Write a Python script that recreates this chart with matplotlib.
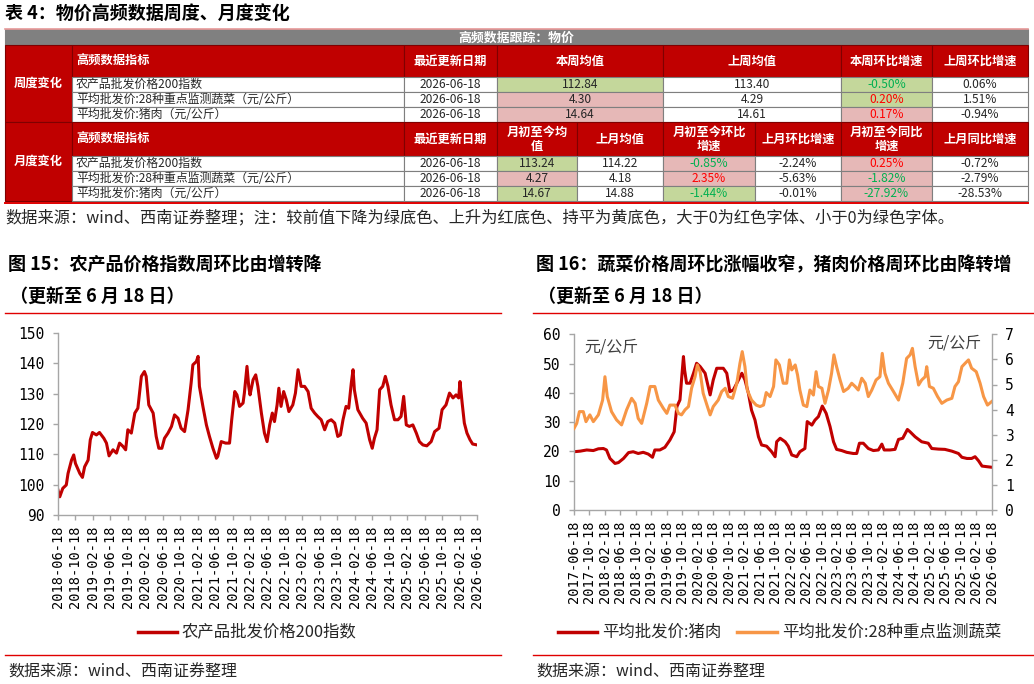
import matplotlib
matplotlib.use("Agg")
import matplotlib.pyplot as plt
from matplotlib.patches import Rectangle
import pandas as pd
import numpy as np

plt.rcParams["font.family"] = ["Noto Sans CJK SC", "DejaVu Sans"]
plt.rcParams["axes.unicode_minus"] = False

# ── colours ───────────────────────────────────────────────────────────────────
RED = "#C00000"
ORANGE = "#F79646"
GRAY_HDR = "#808080"
BG_GREEN = "#C4D79B"
BG_PINK = "#E6B8B7"
TXT_GREEN = "#00B050"
TXT_RED = "#FF0000"
AXIS_GRAY = "#A6A6A6"
MONO = "DejaVu Sans Mono"

# ── table data ────────────────────────────────────────────────────────────────
INDICATORS = ["农产品批发价格200指数",
              "平均批发价:28种重点监测蔬菜（元/公斤）",
              "平均批发价:猪肉（元/公斤）"]
UPDATE_DATE = ["2026-06-18", "2026-06-18", "2026-06-18"]
WEEK_AVG = [112.84, 4.30, 14.64]
WEEK_PREV_AVG = [113.40, 4.29, 14.61]
WEEK_CHG = [-0.50, 0.20, 0.17]
WEEK_PREV_CHG = [0.06, 1.51, -0.94]
MONTH_AVG = [113.24, 4.27, 14.67]
MONTH_PREV_AVG = [114.22, 4.18, 14.88]
MONTH_MOM = [-0.85, 2.35, -1.44]
MONTH_PREV_MOM = [-2.24, -5.63, -0.01]
MONTH_YOY = [0.25, -1.82, -27.92]
MONTH_PREV_YOY = [-0.72, -2.79, -28.53]

WEEK_HEADERS = ["本周均值", "上周均值", "本周环比增速", "上周环比增速"]
MONTH_HEADERS = ["月初至今均\n值", "上月均值", "月初至今环比\n增速", "上月环比增速",
                 "月初至今同比\n增速", "上月同比增速"]

# ── chart 15: 农产品批发价格200指数 (months since 2018-06-18) ─────────────────
AGRI_MONTHS = [0, 0.4, 1.1, 1.9, 2.3, 3.1, 3.6, 4.0, 5.0, 5.6,
               6.1, 6.9, 7.4, 7.9, 8.8, 9.5, 10.5, 11.1, 11.7, 12.6,
               13.4, 14.1, 14.9, 15.5, 16.0, 16.8, 17.6, 18.3, 19.1, 19.8,
               20.2, 20.8, 21.8, 22.5, 23.1, 23.8, 24.4, 25.2, 26.0, 26.7,
               27.5, 28.2, 29.0, 29.8, 30.5, 30.9, 31.7, 32.1, 32.4, 33.2,
               34.0, 34.7, 35.5, 36.3, 36.6, 37.4, 38.4, 39.3, 39.8, 40.5,
               41.0, 41.6, 42.4, 42.7, 43.3, 43.7, 44.0, 44.7, 45.3, 45.8,
               46.6, 47.3, 47.9, 48.5, 49.1, 49.6, 50.2, 50.6, 51.1, 51.7,
               52.3, 52.9, 53.8, 54.4, 55.0, 55.7, 56.5, 57.3, 58.0, 58.8,
               59.5, 60.3, 61.1, 61.8, 62.6, 63.4, 64.1, 64.7, 65.3, 66.0,
               66.6, 67.2, 67.6, 67.9, 68.7, 69.8, 70.6, 71.4, 72.0, 72.5,
               73.1, 73.7, 74.4, 75.0, 75.6, 76.3, 77.1, 77.9, 78.6, 79.2,
               79.8, 80.5, 81.3, 82.1, 82.8, 83.6, 84.5, 85.5, 86.3, 87.3,
               88.0, 88.9, 89.7, 90.5, 91.2, 91.8, 92.1, 92.6, 93.1, 93.7,
               94.4, 95.0, 96.0]
AGRI_INDEX = [98.2, 96.0, 98.8, 99.9, 103.7, 108.1, 109.8, 107.0, 103.7, 102.4,
              105.9, 108.1, 114.8, 117.2, 116.4, 117.2, 115.3, 113.7, 109.5, 111.5,
              110.4, 113.7, 112.6, 111.5, 118.1, 117.0, 123.6, 125.2, 135.7, 137.3,
              135.7, 126.3, 123.6, 115.9, 112.0, 112.0, 115.3, 117.0, 119.2, 123.0,
              121.9, 118.6, 117.5, 124.7, 133.5, 139.5, 140.6, 142.3, 132.4, 125.8,
              119.7, 115.9, 112.0, 108.7, 109.3, 114.2, 113.7, 113.7, 121.4, 130.7,
              129.6, 125.8, 126.9, 130.2, 139.0, 132.4, 129.6, 134.6, 136.2, 132.4,
              123.6, 117.0, 114.2, 119.7, 123.6, 120.8, 126.3, 131.8, 125.8, 130.7,
              128.0, 124.1, 126.3, 130.2, 137.9, 132.4, 132.4, 130.7, 125.2, 123.6,
              122.5, 121.4, 118.1, 120.8, 121.4, 120.3, 115.9, 116.4, 121.4, 125.8,
              125.2, 133.5, 137.9, 131.3, 124.7, 121.9, 120.3, 114.8, 112.0, 115.3,
              118.1, 131.3, 132.4, 135.7, 132.4, 126.3, 121.4, 121.4, 122.5, 129.1,
              119.7, 119.2, 119.7, 117.0, 114.2, 113.1, 112.8, 114.2, 117.5, 118.6,
              124.7, 126.3, 130.2, 128.6, 129.6, 128.6, 134.0, 126.9, 120.3, 117.0,
              114.8, 113.4, 113.1]

# ── chart 16: 猪肉 / 蔬菜 (months since 2017-06-18) ───────────────────────────
PORK_MONTHS = [0, 1.6, 3.3, 5.0, 6.3, 7.6, 8.4, 9.3, 10.6, 11.5,
               12.8, 14.1, 15.3, 16.6, 17.9, 19.2, 20.3, 20.9, 22.2, 23.5,
               24.8, 25.9, 26.6, 27.4, 27.8, 28.3, 28.6, 29.1, 30.0, 30.9,
               31.7, 32.6, 33.9, 35.2, 36.0, 36.9, 38.6, 39.5, 40.3, 41.2,
               42.1, 43.4, 44.2, 45.1, 45.9, 46.8, 47.7, 48.5, 49.8, 51.1,
               52.0, 52.4, 53.3, 54.6, 55.4, 56.3, 57.6, 58.4, 59.7, 60.3,
               61.5, 62.3, 63.2, 64.2, 65.2, 66.2, 67.1, 67.9, 69.2, 70.5,
               72.2, 73.1, 73.8, 74.8, 76.1, 77.4, 78.7, 79.6, 80.2, 81.7,
               83.0, 83.9, 85.0, 86.2, 86.9, 88.2, 89.9, 91.6, 92.5, 94.2,
               95.9, 97.7, 99.4, 100.3, 101.6, 102.8, 103.7, 104.6, 105.5, 106.7,
               108.0]
PORK_PRICE = [19.9, 20.1, 20.5, 20.3, 20.9, 21.0, 20.5, 17.6, 15.9, 16.2,
              17.6, 19.6, 19.9, 19.3, 19.7, 19.1, 18.0, 20.5, 20.5, 21.4,
              23.9, 26.7, 35.3, 37.6, 44.4, 52.4, 47.8, 43.3, 43.3, 46.7,
              50.1, 49.0, 46.7, 39.3, 44.4, 48.4, 48.4, 46.7, 40.4, 41.0,
              43.3, 46.7, 44.4, 39.8, 34.1, 30.7, 25.0, 22.2, 21.8, 19.9,
              18.2, 23.3, 24.5, 23.3, 21.8, 18.8, 18.2, 19.9, 21.0, 30.2,
              29.0, 30.7, 31.9, 35.5, 33.0, 28.5, 23.3, 20.7, 20.3, 19.7,
              19.3, 19.3, 22.8, 22.8, 21.0, 20.3, 20.5, 22.5, 20.5, 20.5,
              20.7, 24.1, 24.5, 27.5, 26.7, 25.0, 23.3, 22.8, 21.0, 20.8,
              20.7, 20.1, 19.3, 18.0, 17.6, 17.6, 18.2, 16.8, 15.0, 14.8,
              14.6]

VEG_MONTHS = [0, 0.7, 1.4, 2.4, 3.1, 4.1, 5.0, 6.3, 7.4, 8.0,
              8.6, 9.7, 11.0, 12.3, 13.6, 14.9, 15.8, 16.6, 17.5, 18.8,
              19.7, 20.9, 21.8, 23.1, 24.0, 24.8, 26.1, 27.0, 27.8, 28.7,
              29.6, 30.4, 31.3, 31.9, 32.6, 33.4, 34.5, 35.2, 36.0, 37.3,
              38.2, 39.1, 39.9, 41.0, 42.1, 42.9, 43.5, 44.2, 44.8, 45.9,
              47.1, 48.1, 49.0, 49.7, 50.7, 51.6, 52.2, 53.1, 54.1, 55.0,
              55.7, 56.3, 57.2, 57.8, 58.4, 59.3, 60.2, 61.0, 61.9, 62.6,
              63.2, 64.1, 64.9, 65.8, 66.6, 67.2, 67.9, 68.8, 69.7, 70.9,
              71.8, 72.7, 73.5, 74.4, 75.3, 76.1, 77.0, 78.1, 79.1, 79.7,
              80.4, 81.3, 82.6, 83.9, 85.0, 86.0, 86.9, 87.5, 88.2, 89.1,
              89.9, 90.8, 91.2, 91.9, 92.9, 94.0, 95.1, 96.4, 97.7, 98.5,
              99.4, 100.3, 101.1, 102.0, 102.8, 104.0, 105.0, 105.9, 106.9, 108.0]
VEG_PRICE = [3.25, 3.45, 3.92, 3.92, 3.52, 3.79, 3.52, 3.79, 4.38, 5.31,
             4.52, 3.92, 3.59, 3.39, 3.99, 4.45, 4.25, 3.65, 3.45, 4.25,
             4.92, 4.92, 4.38, 4.05, 3.85, 4.18, 4.18, 3.85, 3.79, 3.99,
             4.12, 4.85, 5.31, 5.78, 5.51, 4.65, 4.12, 3.79, 4.12, 4.38,
             4.72, 4.85, 4.52, 4.45, 5.05, 5.84, 6.31, 5.71, 4.78, 4.38,
             4.18, 4.12, 4.18, 4.68, 4.52, 4.92, 5.98, 5.78, 5.05, 5.05,
             5.98, 5.58, 5.78, 5.38, 4.78, 4.18, 4.12, 4.78, 4.58, 5.51,
             4.92, 4.85, 4.25, 4.78, 5.45, 6.18, 5.71, 5.18, 4.72, 4.85,
             5.05, 4.92, 4.78, 5.25, 5.05, 4.52, 4.78, 5.18, 5.31, 6.24,
             5.45, 5.05, 4.72, 4.38, 5.05, 6.04, 6.18, 6.44, 5.71, 4.98,
             5.18, 5.31, 5.71, 4.92, 4.85, 4.52, 4.25, 4.38, 4.45, 4.92,
             5.11, 5.71, 5.84, 5.98, 5.65, 5.51, 5.05, 4.52, 4.18, 4.32]

AGRI_LABEL = "农产品批发价格200指数"
PORK_LABEL = "平均批发价:猪肉"
VEG_LABEL = "平均批发价:28种重点监测蔬菜"


def date_ticks(start, n):
    return pd.date_range(start, periods=n, freq=pd.DateOffset(months=4)).strftime("%Y-%m-%d").tolist()


fig = plt.figure(figsize=(10.34, 6.84), dpi=100)
bg = fig.add_axes([0, 0, 1, 1])
bg.set_xlim(0, 1034)
bg.set_ylim(684, 0)
bg.axis("off")


def cell(x0, x1, y0, y1, fc, ec="#7F7F7F", lw=0.8):
    bg.add_patch(Rectangle((x0, y0), x1 - x0, y1 - y0, facecolor=fc, edgecolor=ec, lw=lw))


def bg_for(cur, prev):
    return BG_GREEN if cur < prev else (BG_PINK if cur > prev else "#FFFF99")


def txt_for(v):
    return TXT_RED if v > 0 else (TXT_GREEN if v < 0 else "black")


# ── table ─────────────────────────────────────────────────────────────────────
bg.text(5, 14, "表 4：物价高频数据周度、月度变化", fontsize=13, fontweight="bold", va="center")

TL, TR = 5, 1028
bg.plot([TL, TR], [28.5, 28.5], color="#E89A9A", lw=1.2)
cell(TL, TR, 29, 45, GRAY_HDR, ec=GRAY_HDR)
bg.text((TL + TR) / 2, 37.5, "高频数据跟踪：物价", color="white", fontsize=9.3,
        fontweight="bold", ha="center", va="center")

HDR_FS, ROW_FS = 8.8, 8.6
weekly_cols = [497, 663, 841, 932, 1028]
monthly_cols = [497, 577, 663, 755, 841, 932, 1028]
blocks = [
    ("周度变化", 45, 77, [77, 92, 107, 122], weekly_cols, WEEK_HEADERS,
     [(WEEK_AVG, WEEK_PREV_AVG, False), (WEEK_PREV_AVG, None, False),
      (WEEK_CHG, WEEK_PREV_CHG, True), (WEEK_PREV_CHG, None, True)]),
    ("月度变化", 122, 156, [156, 171, 186, 201], monthly_cols, MONTH_HEADERS,
     [(MONTH_AVG, MONTH_PREV_AVG, False), (MONTH_PREV_AVG, None, False),
      (MONTH_MOM, MONTH_PREV_MOM, True), (MONTH_PREV_MOM, None, True),
      (MONTH_YOY, MONTH_PREV_YOY, True), (MONTH_PREV_YOY, None, True)]),
]
for name, h0, h1, rows, cols, headers, series in blocks:
    cell(TL, 72, h0, rows[-1], RED, ec="#7F0000")
    bg.text((TL + 72) / 2, (h0 + rows[-1]) / 2, name, color="white", fontsize=HDR_FS,
            fontweight="bold", ha="center", va="center")
    cell(72, 404, h0, h1, RED, ec="#7F0000")
    bg.text(76, (h0 + h1) / 2, "高频数据指标", color="white", fontsize=HDR_FS,
            fontweight="bold", ha="left", va="center")
    cell(404, 497, h0, h1, RED, ec="#7F0000")
    bg.text(450.5, (h0 + h1) / 2, "最近更新日期", color="white", fontsize=HDR_FS,
            fontweight="bold", ha="center", va="center")
    for j, hd in enumerate(headers):
        cell(cols[j], cols[j + 1], h0, h1, RED, ec="#7F0000")
        bg.text((cols[j] + cols[j + 1]) / 2, (h0 + h1) / 2, hd, color="white",
                fontsize=HDR_FS, fontweight="bold", ha="center", va="center",
                linespacing=1.1)
    for i in range(3):
        y0, y1 = rows[i], rows[i + 1]
        ym = (y0 + y1) / 2
        cell(72, 404, y0, y1, "white")
        bg.text(76, ym, INDICATORS[i], fontsize=ROW_FS, color="#262626", va="center")
        cell(404, 497, y0, y1, "white")
        bg.text(450.5, ym, UPDATE_DATE[i], fontsize=ROW_FS, color="#262626",
                ha="center", va="center")
        for j, (vals, prev, pct) in enumerate(series):
            v = vals[i]
            fc = bg_for(v, prev[i]) if prev is not None else "white"
            cell(cols[j], cols[j + 1], y0, y1, fc)
            if pct:
                s = f"{v:.2f}%"
                tc = txt_for(v) if prev is not None else "#262626"
            else:
                s = f"{v:.2f}"
                tc = "#262626"
            bg.text((cols[j] + cols[j + 1]) / 2, ym, s, fontsize=ROW_FS, color=tc,
                    ha="center", va="center")
bg.plot([TL, TR], [203, 203], color="#E00000", lw=1.4)

bg.text(5, 218, "数据来源：wind、西南证券整理；注：较前值下降为绿底色、上升为红底色、"
        "持平为黄底色，大于0为红色字体、小于0为绿色字体。", fontsize=11.7,
        color="#262626", va="center")

# ── section titles / rules ────────────────────────────────────────────────────
for x0, x1, title in [(5, 501, "图 15：农产品价格指数周环比由增转降"),
                      (533, 1034, "图 16：蔬菜价格周环比涨幅收窄，猪肉价格周环比由降转增")]:
    bg.text(x0 + 3, 265, title, fontsize=13, fontweight="bold", va="center")
    bg.text(x0 + 5, 296, "（更新至 6 月 18 日）", fontsize=13, fontweight="bold", va="center")
    bg.plot([x0, x1], [312.5, 312.5], color="#E00000", lw=1.0)
    bg.plot([x0, x1], [655, 655], color="#E00000", lw=1.0)
    bg.text(x0 + 3, 672, "数据来源：wind、西南证券整理", fontsize=11.5,
            color="#262626", va="center")


def style_axis(ax, right=False):
    for s in ["top"] + ([] if right else ["right"]):
        ax.spines[s].set_visible(False)
    for s in ax.spines.values():
        s.set_color(AXIS_GRAY)
        s.set_linewidth(1.0)
    ax.tick_params(axis="both", colors=AXIS_GRAY, labelcolor="black", length=3.5,
                   width=1.0, direction="out", labelsize=10.5, pad=6)
    ax.tick_params(axis="x", labelsize=9.8, pad=4)
    for lab in ax.get_xticklabels() + ax.get_yticklabels():
        lab.set_fontfamily(MONO)


# ── chart 15 ──────────────────────────────────────────────────────────────────
ax1 = fig.add_axes([58 / 1034, 1 - 515 / 684, 419 / 1034, 182 / 684])
ax1.plot(AGRI_MONTHS, AGRI_INDEX, color=RED, lw=2.2)
ax1.set_xlim(0, 96)
ax1.set_ylim(90, 150)
ax1.set_yticks(np.arange(90, 151, 10))
ax1.set_xticks(np.arange(0, 97, 4))
ax1.set_xticklabels(date_ticks("2018-06-18", 25), rotation=90)
style_axis(ax1)

bg.plot([138, 177], [632, 632], color=RED, lw=2.5)
bg.text(182, 632, AGRI_LABEL, fontsize=11.8, color="#262626", va="center")

# ── chart 16 ──────────────────────────────────────────────────────────────────
ax2 = fig.add_axes([574 / 1034, 1 - 510 / 684, 417.7 / 1034, 175.7 / 684])
ax2r = ax2.twinx()
ax2.plot(PORK_MONTHS, PORK_PRICE, color=RED, lw=2.2)
ax2r.plot(VEG_MONTHS, VEG_PRICE, color=ORANGE, lw=2.2)
ax2.set_xlim(0, 108)
ax2.set_ylim(0, 60)
ax2r.set_ylim(0, 7)
ax2.set_yticks(np.arange(0, 61, 10))
ax2r.set_yticks(np.arange(0, 8, 1))
ax2.set_xticks(np.arange(0, 109, 4))
ax2.set_xticklabels(date_ticks("2017-06-18", 28), rotation=90)
style_axis(ax2)
style_axis(ax2r, right=True)
ax2r.spines["left"].set_visible(False)
ax2r.spines["bottom"].set_visible(False)
ax2.spines["right"].set_visible(False)
ax2.text(0.025, 0.93, "元/公斤", transform=ax2.transAxes, fontsize=11.5,
         color="#404040", va="center")
ax2r.text(0.975, 0.95, "元/公斤", transform=ax2r.transAxes, fontsize=11.5,
          color="#404040", va="center", ha="right")

bg.plot([558, 597], [632, 632], color=RED, lw=2.5)
bg.text(602, 632, PORK_LABEL, fontsize=11.8, color="#262626", va="center")
bg.plot([737, 777], [632, 632], color=ORANGE, lw=2.5)
bg.text(782, 632, VEG_LABEL, fontsize=11.8, color="#262626", va="center")

fig.savefig("out.png", dpi=100)
